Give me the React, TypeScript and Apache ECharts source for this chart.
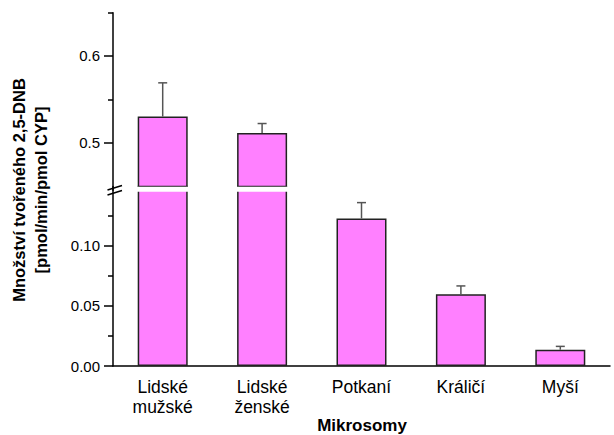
import React, { useEffect, useRef } from "react";
import * as echarts from "echarts";

const categories = ["Lidské\nmužské", "Lidské\nženské", "Potkaní", "Králičí", "Myší"];
const values = [0.530, 0.511, 0.1225, 0.0595, 0.0135];
const errorTops = [0.569, 0.522, 0.1357, 0.0665, 0.0163];

const upperMajorTicks = [0.5, 0.6];
const upperMinorTicks = [0.55, 0.65];
const lowerMajorTicks = [0, 0.05, 0.1];
const lowerMinorTicks = [0.025, 0.075, 0.125];

const UPPER_MIN = 0.445;
const UPPER_MAX = 0.65;
const LOWER_MIN = 0;
const LOWER_MAX = 0.149;

const FONT = "Liberation Sans, Arial, sans-serif";
const BAR_COLOR = "#FF80FF";

export default function App() {
  const ref = useRef<HTMLDivElement>(null);
  useEffect(() => {
    if (!ref.current) return;
    const chart = echarts.init(ref.current, null, { renderer: "svg" });

    const errData = categories.map((c, i) => [i, values[i], errorTops[i]]);
    const upperErr = errData.filter((d) => d[2] > UPPER_MIN);
    const lowerErr = errData.filter((d) => d[1] < LOWER_MAX);

    const renderErr = (params: any, api: any) => {
      const x = api.value(0);
      const v = api.value(1);
      const e = api.value(2);
      const p1 = api.coord([x, v]);
      const p2 = api.coord([x, e]);
      const st = { stroke: "#555", lineWidth: 1.5 };
      return {
        type: "group",
        children: [
          { type: "line", shape: { x1: p1[0], y1: p1[1], x2: p2[0], y2: p2[1] }, style: st },
          { type: "line", shape: { x1: p2[0] - 4.5, y1: p2[1], x2: p2[0] + 4.5, y2: p2[1] }, style: st },
        ],
      };
    };

    const axisLineStyle = { color: "#000", width: 1.5 };
    const tickLabelStyle = { color: "#000", fontFamily: FONT, fontSize: 15 };

    chart.setOption({
      animation: false,
      backgroundColor: "#fff",
      grid: [
        { left: 113, right: 4, top: 12.7, bottom: 435 - 190.2 },
        { left: 113, right: 4, top: 186.6, bottom: 69 },
      ],
      xAxis: [
        { type: "category", gridIndex: 0, data: categories, show: false },
        {
          type: "category",
          gridIndex: 1,
          data: categories,
          axisLine: { lineStyle: axisLineStyle },
          axisTick: { alignWithLabel: true, length: 7, lineStyle: { color: "#000", width: 1.5 } },
          axisLabel: { color: "#000", fontFamily: FONT, fontSize: 17.5, margin: 11, lineHeight: 20 },
        },
        {
          type: "category",
          gridIndex: 1,
          data: categories,
          axisLine: { show: false },
          axisTick: { length: 4, lineStyle: { color: "#000", width: 1.5 } },
          axisLabel: { show: false },
        },
      ],
      yAxis: [
        {
          type: "value",
          gridIndex: 0,
          position: "left",
          min: UPPER_MIN,
          max: UPPER_MAX,
          axisLine: { show: true, lineStyle: axisLineStyle },
          axisTick: { show: true, length: 9, customValues: upperMajorTicks, lineStyle: { color: "#000", width: 1.5 } },
          axisLabel: { ...tickLabelStyle, margin: 13, customValues: upperMajorTicks, formatter: (v: number) => v.toFixed(1) },
          splitLine: { show: false },
        },
        {
          type: "value",
          gridIndex: 0,
          position: "left",
          min: UPPER_MIN,
          max: UPPER_MAX,
          axisLine: { show: false },
          axisTick: { show: true, length: 5, customValues: upperMinorTicks, lineStyle: { color: "#000", width: 1.5 } },
          axisLabel: { show: false },
          splitLine: { show: false },
        },
        {
          type: "value",
          gridIndex: 1,
          position: "left",
          min: LOWER_MIN,
          max: LOWER_MAX,
          axisLine: { show: true, lineStyle: axisLineStyle },
          axisTick: { show: true, length: 9, customValues: lowerMajorTicks, lineStyle: { color: "#000", width: 1.5 } },
          axisLabel: { ...tickLabelStyle, margin: 13, customValues: lowerMajorTicks, formatter: (v: number) => v.toFixed(2) },
          splitLine: { show: false },
        },
        {
          type: "value",
          gridIndex: 1,
          position: "left",
          min: LOWER_MIN,
          max: LOWER_MAX,
          axisLine: { show: false },
          axisTick: { show: true, length: 5, customValues: lowerMinorTicks, lineStyle: { color: "#000", width: 1.5 } },
          axisLabel: { show: false },
          splitLine: { show: false },
        },
      ],
      series: [
        {
          type: "bar",
          xAxisIndex: 0,
          yAxisIndex: 0,
          data: values,
          barWidth: 50,
          itemStyle: { color: BAR_COLOR, borderColor: "#222", borderWidth: 1.5 },
        },
        {
          type: "bar",
          xAxisIndex: 1,
          yAxisIndex: 2,
          data: values,
          barWidth: 50,
          itemStyle: { color: BAR_COLOR, borderColor: "#222", borderWidth: 1.5 },
        },
        {
          type: "custom",
          xAxisIndex: 0,
          yAxisIndex: 0,
          data: upperErr,
          renderItem: renderErr,
          z: 3,
        },
        {
          type: "custom",
          xAxisIndex: 1,
          yAxisIndex: 2,
          data: lowerErr,
          renderItem: renderErr,
          z: 3,
        },
      ],
      graphic: [
        { type: "rect", z: 100, shape: { x: 116, y: 186.8, width: 498, height: 5 }, style: { fill: "#fff" } },
        { type: "line", z: 101, shape: { x1: 107.5, y1: 190, x2: 122, y2: 185.5 }, style: { stroke: "#000", lineWidth: 1.5 } },
        { type: "line", z: 101, shape: { x1: 107.5, y1: 195, x2: 122, y2: 190.5 }, style: { stroke: "#000", lineWidth: 1.5 } },
        {
          type: "text",
          z: 101,
          x: 30,
          y: 190,
          rotation: Math.PI / 2,
          style: {
            text: "Množství tvořeného 2,5-DNB\n[pmol/min/pmol CYP]",
            fontFamily: FONT,
            fontWeight: "bold",
            fontSize: 16.5,
            lineHeight: 22,
            align: "center",
            verticalAlign: "middle",
            fill: "#000",
          },
        },
        {
          type: "text",
          z: 101,
          x: 362,
          y: 425,
          style: {
            text: "Mikrosomy",
            fontFamily: FONT,
            fontWeight: "bold",
            fontSize: 17,
            align: "center",
            verticalAlign: "middle",
            fill: "#000",
          },
        },
      ],
    });
    return () => chart.dispose();
  }, []);
  return <div ref={ref} style={{ position: "fixed", left: 0, top: 0, width: 614, height: 435 }} />;
}
